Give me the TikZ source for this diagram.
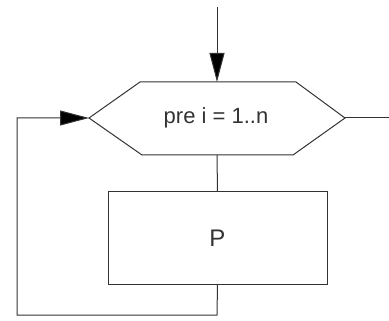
\documentclass[tikz,border=0pt]{standalone}
\usepackage{fontspec}
\setmainfont{Liberation Sans}
\usetikzlibrary{arrows.meta}
\begin{document}
\begin{tikzpicture}[x=1pt,y=-1pt,
  ln/.style={line width=1pt,draw=black!80},
  arr/.style={ln,-{Triangle[length=29pt,width=15pt,fill=black]}},
  lbl/.style={font=\fontsize{22}{24}\selectfont,text=black!80,inner sep=0pt}]
\useasboundingbox (0,0) rectangle (389,321);
% hexagon corners
\coordinate (hL) at (89,118);
\coordinate (hTL) at (140,82);
\coordinate (hT) at (217,82);
\coordinate (hTR) at (296,82);
\coordinate (hR) at (345,118);
\coordinate (hBR) at (293,155);
\coordinate (hB) at (217,155);
\coordinate (hBL) at (142,155);
\draw[ln] (hL) -- (hTL) -- (hTR) -- (hR) -- (hBR) -- (hBL) -- cycle;
\node[lbl] (hex) at (216,118) {pre i = 1..n};
% box
\node[ln,draw,minimum width=219pt,minimum height=92pt,inner sep=0pt,
      font=\fontsize{24}{26}\selectfont,text=black!80] (P) at (217.5,238) {P};
% connectors
\coordinate (in) at (217,7);
\coordinate (out) at (389,118);
\coordinate (c1) at (217,315);
\coordinate (c2) at (17,315);
\coordinate (c3) at (17,118);
\draw[arr] (in) -- (hT);
\draw[ln] (hR) -- (out);
\draw[ln] (hB) -- (P.north);
\draw[arr] (P.south) -- (c1) -- (c2) -- (c3) -- (hL);
\end{tikzpicture}
\end{document}
